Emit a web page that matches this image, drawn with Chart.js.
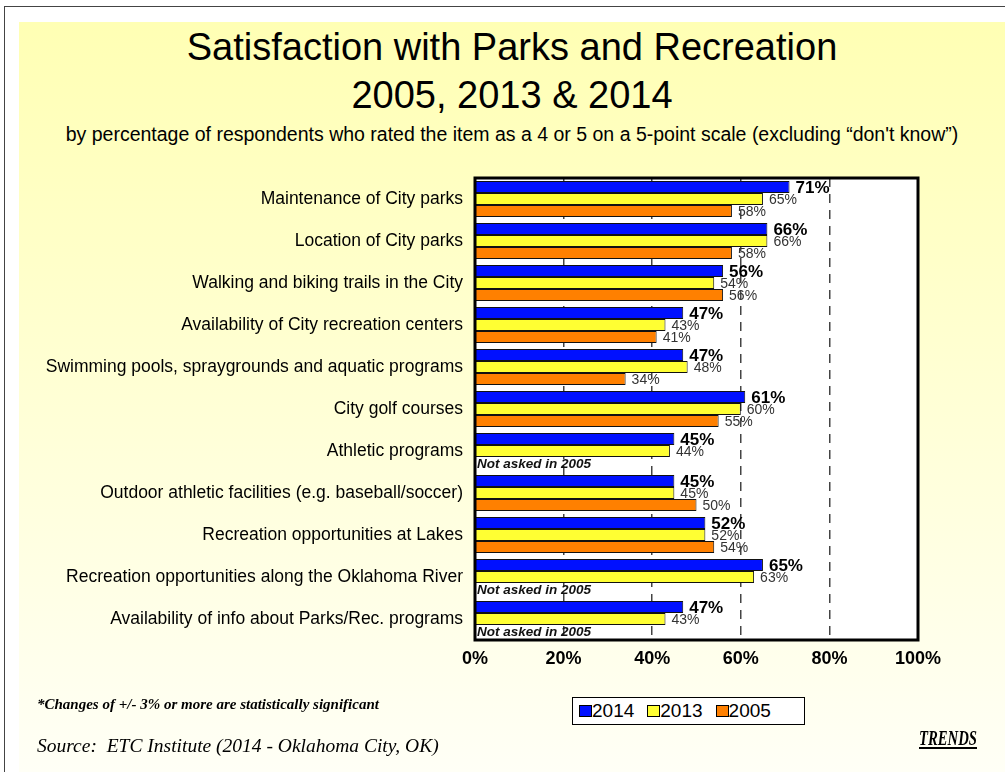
<!DOCTYPE html>
<html>
<head>
<meta charset="utf-8">
<script src="https://cdn.jsdelivr.net/npm/chart.js@4.4.1/dist/chart.umd.min.js"></script>
<style>
  body { margin: 0; width: 1005px; height: 772px; overflow: hidden; background: #fff; position: relative; font-family: "Liberation Sans", Arial, sans-serif; }
  #frame { position: absolute; left: 4px; top: 6px; width: 1010px; height: 780px; border-left: 1px solid #444; border-top: 1px solid #444; }
  #panel { position: absolute; left: 19px; top: 22px; width: 986px; height: 750px; background: linear-gradient(#ffffb4, #fffff6); }
  #title { position: absolute; left: 19px; width: 986px; top: 23px; text-align: center; font-size: 38px; line-height: 48px; color: #000; }
  #sub { position: absolute; left: 19px; width: 986px; top: 123px; text-align: center; font-size: 19.5px; color: #000; }
  canvas { position: absolute; left: 0; top: 0; }
  #note { position: absolute; left: 37px; top: 696px; font-family: "Liberation Serif", serif; font-style: italic; font-weight: bold; font-size: 15px; }
  #source { position: absolute; left: 37px; top: 735px; font-family: "Liberation Serif", serif; font-style: italic; font-size: 19.5px; }
  #trends { position: absolute; left: 919px; top: 726px; font-family: "Liberation Serif", serif; font-style: italic; font-weight: bold; font-size: 21px; text-decoration: underline; transform: scaleX(0.7); transform-origin: left center; }
  #legend { position: absolute; left: 572px; top: 697px; width: 233px; height: 28px; background: #fff; border: 1px solid #000; font-size: 19px; display: flex; align-items: center; padding-left: 6px; box-sizing: border-box; }
  #legend span.sw { display: inline-block; width: 11px; height: 10px; border: 1px solid #000; margin-right: 0; }
  #legend span.it { margin-right: 13px; display: flex; align-items: center; }
</style>
</head>
<body>
<div id="frame"></div>
<div id="panel"></div>
<div id="title">Satisfaction with Parks and Recreation<br>2005, 2013 &amp; 2014</div>
<div id="sub">by percentage of respondents who rated the item as a 4 or 5 on a 5-point scale (excluding “don't know”)</div>
<canvas id="barChart" width="1005" height="772"></canvas>
<div id="note">*Changes of +/- 3% or more are statistically significant</div>
<div id="legend"></div>
<div id="source">Source:&nbsp; ETC Institute (2014 - Oklahoma City, OK)</div>
<div id="trends">TRENDS</div>
<script>
var categories = [
    'Maintenance of City parks',
    'Location of City parks',
    'Walking and biking trails in the City',
    'Availability of City recreation centers',
    'Swimming pools, spraygrounds and aquatic programs',
    'City golf courses',
    'Athletic programs',
    'Outdoor athletic facilities (e.g. baseball/soccer)',
    'Recreation opportunities at Lakes',
    'Recreation opportunities along the Oklahoma River',
    'Availability of info about Parks/Rec. programs'
];
var years = ['2014', '2013', '2005'];
var values2014 = [71, 66, 56, 47, 47, 61, 45, 45, 52, 65, 47];
var values2013 = [65, 66, 54, 43, 48, 60, 44, 45, 52, 63, 43];
var values2005 = [58, 58, 56, 41, 34, 55, null, 50, 54, null, null];
var tickValues = [0, 20, 40, 60, 80, 100];
var colors = ['#0010ff', '#ffff33', '#ff8000'];

// legend box
var legend = document.getElementById('legend');
years.forEach(function (y, i) {
    legend.innerHTML += '<span class="it"><span class="sw" style="background:' + colors[i] + '"></span>' + y + '</span>';
});

// white plot background and heavy frame round the plot area
var plotFrame = {
    id: 'plotFrame',
    beforeDraw: function (chart) {
        var a = chart.chartArea, c = chart.ctx;
        c.save();
        c.fillStyle = '#fff';
        c.fillRect(a.left, a.top, a.right - a.left, a.bottom - a.top);
        c.restore();
    },
    afterDatasetsDraw: function (chart) {
        var a = chart.chartArea, c = chart.ctx;
        c.save();
        c.strokeStyle = '#000';
        c.lineWidth = 3;
        c.strokeRect(a.left, a.top, a.right - a.left, a.bottom - a.top);
        c.restore();
    }
};

// percent labels next to each bar, note where 2005 was not asked
var barLabels = {
    id: 'barLabels',
    afterDraw: function (chart) {
        var c = chart.ctx;
        c.save();
        c.textBaseline = 'middle';
        c.textAlign = 'left';
        chart.data.datasets.forEach(function (ds, i) {
            var meta = chart.getDatasetMeta(i);
            meta.data.forEach(function (bar, j) {
                var v = ds.data[j];
                if (v === null) {
                    c.font = 'italic bold 13.5px "Liberation Sans", Arial';
                    c.fillStyle = '#111';
                    c.fillText('Not asked in 2005', chart.chartArea.left + 2, bar.y + 1);
                    return;
                }
                if (i === 0) {
                    c.font = 'bold 17px "Liberation Sans", Arial';
                    c.fillStyle = '#000';
                } else {
                    c.font = '14px "Liberation Sans", Arial';
                    c.fillStyle = '#333';
                }
                c.fillText(v + '%', bar.x + 6, bar.y + 1);
            });
        });
        c.restore();
    }
};

var ctx = document.getElementById('barChart').getContext('2d');
var myChart = new Chart(ctx, {
    type: 'bar',
    data: {
        labels: categories,
        datasets: [{
            label: years[0],
            data: values2014,
            backgroundColor: colors[0],
            borderColor: '#111',
            borderWidth: 1
        }, {
            label: years[1],
            data: values2013,
            backgroundColor: colors[1],
            borderColor: '#111',
            borderWidth: 1
        }, {
            label: years[2],
            data: values2005,
            backgroundColor: colors[2],
            borderColor: '#111',
            borderWidth: 1
        }]
    },
    options: {
        indexAxis: 'y',
        responsive: false,
        animation: false,
        devicePixelRatio: 1,
        categoryPercentage: 0.86,
        barPercentage: 1,
        layout: { padding: { top: 178, right: 87, bottom: 92, left: 0 } },
        plugins: {
            legend: { display: false },
            tooltip: { enabled: false }
        },
        scales: {
            x: {
                min: 0,
                max: 100,
                afterBuildTicks: function (scale) {
                    scale.ticks = tickValues.map(function (v) { return { value: v }; });
                },
                afterFit: function (scale) { scale.height = 40; },
                ticks: {
                    callback: function (v) { return v + '%'; },
                    color: '#000',
                    font: { family: '"Liberation Sans", Arial', size: 18, weight: 'bold' },
                    padding: 8,
                    maxRotation: 0
                },
                grid: { color: '#444', lineWidth: 1.5, drawTicks: false },
                border: { display: false, dash: [9, 7] }
            },
            y: {
                afterFit: function (scale) { scale.width = 475; },
                ticks: {
                    color: '#000',
                    font: { family: '"Liberation Sans", Arial', size: 17.5 },
                    padding: 12
                },
                grid: { display: false, drawTicks: false },
                border: { display: false }
            }
        }
    },
    plugins: [plotFrame, barLabels]
});
</script>
</body>
</html>
